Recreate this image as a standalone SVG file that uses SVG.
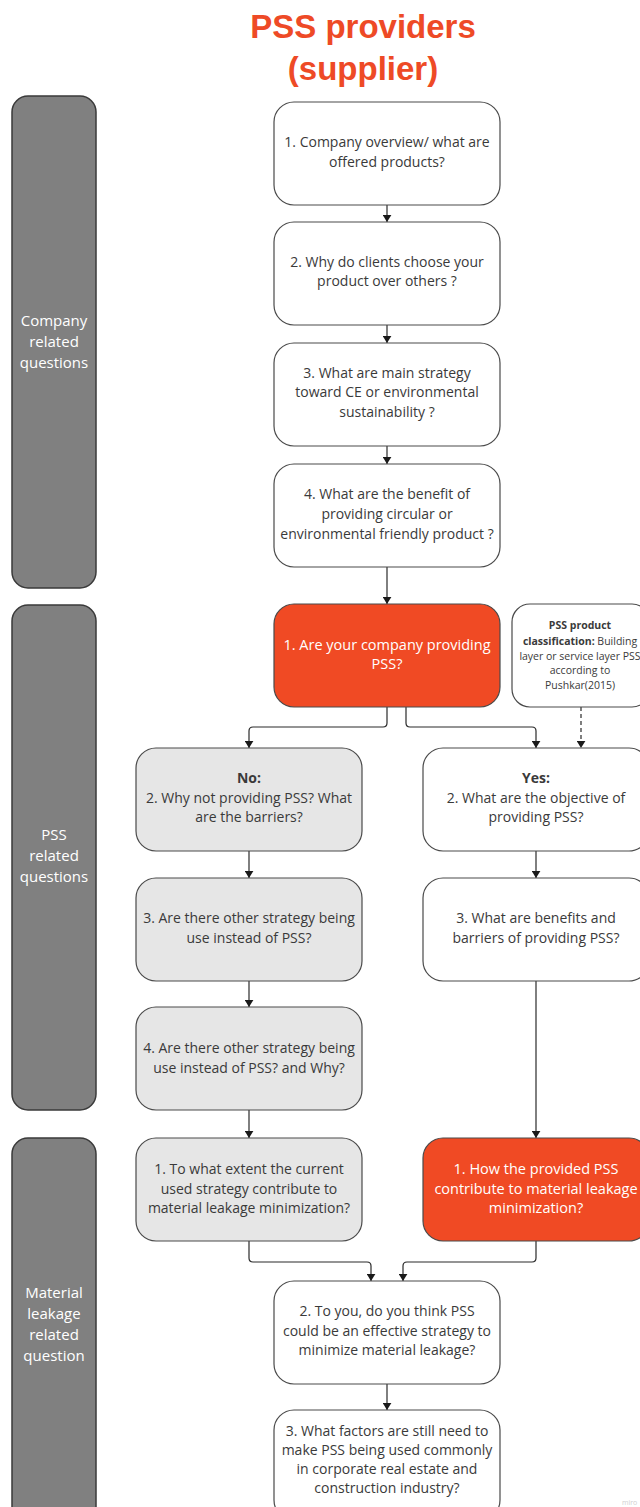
<svg xmlns="http://www.w3.org/2000/svg" width="640" height="1507" viewBox="0 0 640 1507">
  <defs>
    <marker id="arrow" viewBox="0 0 8 10" refX="8" refY="5" markerWidth="7" markerHeight="9" orient="auto" markerUnits="userSpaceOnUse">
      <path d="M0,0 L8,5 L0,10 Z" fill="#1a1a1a"/>
    </marker>
    <style>
      .title { font-family: "Liberation Sans", Arial, sans-serif; font-weight: bold; font-size: 33px; fill: #ee4a26; text-anchor: middle; }
      .band { fill: #808080; stroke: #3a3a3a; stroke-width: 1.5; }
      .band-label { font-family: "Open Sans", "Noto Sans", sans-serif; font-size: 15px; fill: #ffffff; text-anchor: middle; }
      .box { fill: #ffffff; stroke: #4a4a4a; stroke-width: 1.2; }
      .box-grey { fill: #e6e6e6; stroke: #4a4a4a; stroke-width: 1.2; }
      .box-red { fill: #f04a24; stroke: #4a4a4a; stroke-width: 1.2; }
      .t { font-family: "Open Sans", "Noto Sans", sans-serif; font-size: 14px; fill: #3a3a3a; text-anchor: middle; }
      .t-white { font-family: "Open Sans", "Noto Sans", sans-serif; font-size: 14.5px; fill: #ffffff; text-anchor: middle; }
      .note { font-family: "Open Sans", "Noto Sans", sans-serif; font-size: 10.5px; fill: #3a3a3a; text-anchor: middle; }
      .b { font-weight: bold; }
      .link { fill: none; stroke: #2a2a2a; stroke-width: 1.2; marker-end: url(#arrow); }
      .dashed { stroke-dasharray: 4 3; }
      .wm { font-family: "Open Sans", sans-serif; font-size: 7px; fill: #d0d0d0; }
    </style>
  </defs>

  <rect width="640" height="1507" fill="#ffffff"/>

  <!-- heading -->
  <g id="title">
    <text class="title" x="363" y="38">PSS providers</text>
    <text class="title" x="363" y="80">(supplier)</text>
  </g>

  <!-- section bands -->
  <g id="band-company">
    <rect class="band" x="12" y="96" width="84" height="492" rx="16"/>
    <text class="band-label" x="54" y="326">Company</text>
    <text class="band-label" x="54" y="347">related</text>
    <text class="band-label" x="54" y="368">questions</text>
  </g>
  <g id="band-pss">
    <rect class="band" x="12" y="605" width="84" height="505" rx="16"/>
    <text class="band-label" x="54" y="840">PSS</text>
    <text class="band-label" x="54" y="861">related</text>
    <text class="band-label" x="54" y="882">questions</text>
  </g>
  <g id="band-leakage">
    <rect class="band" x="12" y="1138" width="84" height="390" rx="16"/>
    <text class="band-label" x="54" y="1298">Material</text>
    <text class="band-label" x="54" y="1319">leakage</text>
    <text class="band-label" x="54" y="1340">related</text>
    <text class="band-label" x="54" y="1361">question</text>
  </g>

  <!-- connectors -->
  <g id="connectors">
    <path class="link" d="M387,205 V222"/>
    <path class="link" d="M387,325 V343"/>
    <path class="link" d="M387,446 V464"/>
    <path class="link" d="M387,567 V604"/>
    <path class="link" d="M387,707 V723 Q387,727 383,727 H253 Q249,727 249,731 V748"/>
    <path class="link" d="M406,707 V723 Q406,727 410,727 H532 Q536,727 536,731 V748"/>
    <path class="link dashed" d="M581,707 V748"/>
    <path class="link" d="M249,851 V878"/>
    <path class="link" d="M536,851 V878"/>
    <path class="link" d="M249,981 V1007"/>
    <path class="link" d="M536,981 V1138"/>
    <path class="link" d="M249,1110 V1138"/>
    <path class="link" d="M249,1241 V1258 Q249,1262 253,1262 H367 Q371,1262 371,1266 V1281"/>
    <path class="link" d="M536,1241 V1258 Q536,1262 532,1262 H407 Q403,1262 403,1266 V1281"/>
    <path class="link" d="M387,1384 V1410"/>
  </g>

  <!-- company questions -->
  <g id="c1">
    <rect class="box" x="274" y="102" width="226" height="103" rx="20"/>
    <text class="t" x="387" y="147">1. Company overview/ what are</text>
    <text class="t" x="387" y="167">offered products?</text>
  </g>
  <g id="c2">
    <rect class="box" x="274" y="222" width="226" height="103" rx="20"/>
    <text class="t" x="387" y="267">2. Why do clients choose your</text>
    <text class="t" x="387" y="286">product over others ?</text>
  </g>
  <g id="c3">
    <rect class="box" x="274" y="343" width="226" height="103" rx="20"/>
    <text class="t" x="387" y="378">3. What are main strategy</text>
    <text class="t" x="387" y="397">toward CE or environmental</text>
    <text class="t" x="387" y="417">sustainability ?</text>
  </g>
  <g id="c4">
    <rect class="box" x="274" y="464" width="226" height="103" rx="20"/>
    <text class="t" x="387" y="499">4. What are the benefit of</text>
    <text class="t" x="387" y="519">providing circular or</text>
    <text class="t" x="387" y="539">environmental friendly product ?</text>
  </g>

  <!-- PSS questions -->
  <g id="p1">
    <rect class="box-red" x="274" y="604" width="226" height="103" rx="20"/>
    <text class="t-white" x="387" y="650">1. Are your company providing</text>
    <text class="t-white" x="387" y="669">PSS?</text>
  </g>
  <g id="note">
    <rect class="box" x="512" y="604" width="138" height="103" rx="18"/>
    <text class="note b" x="580" y="629">PSS product</text>
    <text class="note" x="580" y="645"><tspan class="b">classification:</tspan> Building</text>
    <text class="note" x="580" y="660">layer or service layer PSS</text>
    <text class="note" x="580" y="674">according to</text>
    <text class="note" x="580" y="689">Pushkar(2015)</text>
  </g>
  <g id="no2">
    <rect class="box-grey" x="136" y="748" width="226" height="103" rx="20"/>
    <text class="t b" x="249" y="783">No:</text>
    <text class="t" x="249" y="803">2. Why not providing PSS? What</text>
    <text class="t" x="249" y="822">are the barriers?</text>
  </g>
  <g id="yes2">
    <rect class="box" x="423" y="748" width="226" height="103" rx="20"/>
    <text class="t b" x="536" y="783">Yes:</text>
    <text class="t" x="536" y="803">2. What are the objective of</text>
    <text class="t" x="536" y="822">providing PSS?</text>
  </g>
  <g id="no3">
    <rect class="box-grey" x="136" y="878" width="226" height="103" rx="20"/>
    <text class="t" x="249" y="923">3. Are there other strategy being</text>
    <text class="t" x="249" y="943">use instead of PSS?</text>
  </g>
  <g id="yes3">
    <rect class="box" x="423" y="878" width="226" height="103" rx="20"/>
    <text class="t" x="536" y="923">3. What are benefits and</text>
    <text class="t" x="536" y="943">barriers of providing PSS?</text>
  </g>
  <g id="no4">
    <rect class="box-grey" x="136" y="1007" width="226" height="103" rx="20"/>
    <text class="t" x="249" y="1053">4. Are there other strategy being</text>
    <text class="t" x="249" y="1073">use instead of PSS? and Why?</text>
  </g>

  <!-- material leakage questions -->
  <g id="m1-no">
    <rect class="box-grey" x="136" y="1138" width="226" height="103" rx="20"/>
    <text class="t" x="249" y="1174">1. To what extent the current</text>
    <text class="t" x="249" y="1194">used strategy contribute to</text>
    <text class="t" x="249" y="1213">material leakage minimization?</text>
  </g>
  <g id="m1-yes">
    <rect class="box-red" x="423" y="1138" width="226" height="103" rx="20"/>
    <text class="t-white" x="536" y="1174">1. How the provided PSS</text>
    <text class="t-white" x="536" y="1194">contribute to material leakage</text>
    <text class="t-white" x="536" y="1213">minimization?</text>
  </g>
  <g id="m2">
    <rect class="box" x="274" y="1281" width="226" height="103" rx="20"/>
    <text class="t" x="387" y="1316">2. To you, do you think PSS</text>
    <text class="t" x="387" y="1336">could be an effective strategy to</text>
    <text class="t" x="387" y="1355">minimize material leakage?</text>
  </g>
  <g id="m3">
    <rect class="box" x="274" y="1410" width="226" height="110" rx="20"/>
    <text class="t" x="387" y="1436">3. What factors are still need to</text>
    <text class="t" x="387" y="1455">make PSS being used commonly</text>
    <text class="t" x="387" y="1474">in corporate real estate and</text>
    <text class="t" x="387" y="1493">construction industry?</text>
  </g>

  <text class="wm" x="622" y="1505">miro</text>
</svg>
